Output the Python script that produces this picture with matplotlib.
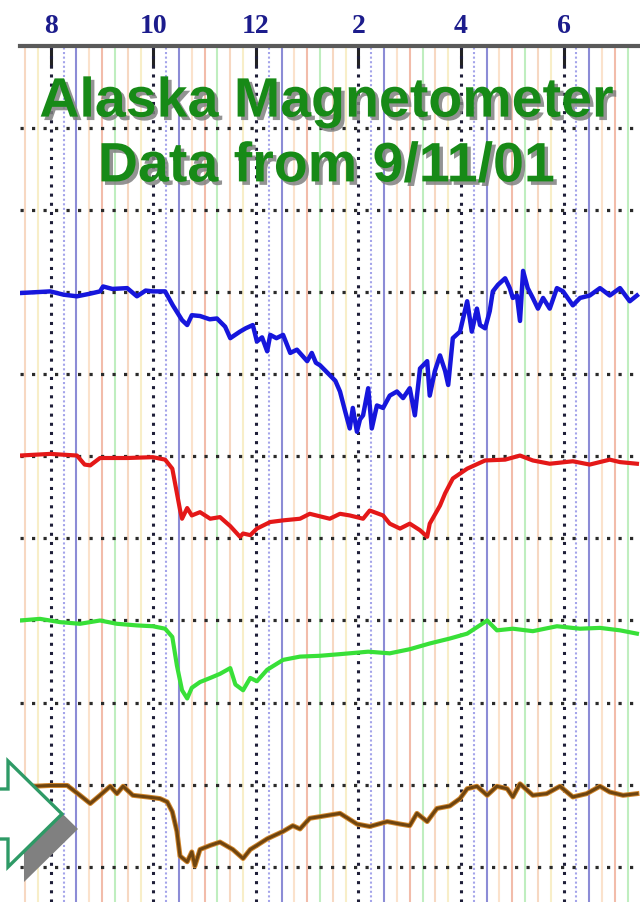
import numpy as np
import matplotlib
matplotlib.use("Agg")
import matplotlib.pyplot as plt
import matplotlib.patheffects as pe
from matplotlib.patches import Polygon
from matplotlib.transforms import Affine2D

# ---------------- data (time in hours, offset in grid divisions, downward) ----------------
tick_hours = [8, 10, 12, 14, 16, 18]
tick_labels = ["8", "10", "12", "2", "4", "6"]

blue_t = [7.40, 7.70, 7.99, 8.25, 8.51, 8.75, 8.96, 9.02, 9.20, 9.49, 9.68, 9.85, 9.99, 10.23, 10.38,
          10.56, 10.66, 10.75, 10.91, 11.10, 11.24, 11.40, 11.50, 11.69, 11.80, 11.94, 12.02, 12.12,
          12.22, 12.28, 12.40, 12.53, 12.67, 12.80, 13.00, 13.09, 13.17, 13.25, 13.44, 13.55, 13.64,
          13.74, 13.83, 13.89, 13.97, 14.03, 14.09, 14.19, 14.26, 14.36, 14.48, 14.61, 14.75, 14.87,
          15.00, 15.10, 15.20, 15.34, 15.39, 15.49, 15.59, 15.69, 15.75, 15.84, 15.98, 16.12, 16.21,
          16.31, 16.37, 16.47, 16.56, 16.62, 16.72, 16.86, 16.95, 17.01, 17.09, 17.15, 17.21, 17.30,
          17.40, 17.50, 17.60, 17.73, 17.87, 17.99, 18.18, 18.32, 18.51, 18.71, 18.90, 19.10, 19.29,
          19.43]
blue_v = [3.01, 3.00, 2.99, 3.03, 3.05, 3.02, 2.99, 2.93, 2.96, 2.95, 3.05, 2.98, 2.99, 2.99, 3.16,
          3.34, 3.40, 3.28, 3.29, 3.33, 3.32, 3.42, 3.56, 3.48, 3.44, 3.40, 3.60, 3.55,
          3.72, 3.52, 3.56, 3.52, 3.74, 3.70, 3.84, 3.74, 3.86, 3.89, 4.01, 4.08, 4.21,
          4.45, 4.66, 4.41, 4.70, 4.55, 4.50, 4.17, 4.66, 4.38, 4.41, 4.26, 4.21, 4.29,
          4.17, 4.50, 3.93, 3.84, 4.26, 3.96, 3.77, 3.96, 4.13, 3.56, 3.48, 3.11, 3.48,
          3.20, 3.40, 3.44, 3.23, 2.99, 2.91, 2.83, 2.95, 3.07, 3.04, 3.35, 2.74, 2.95,
          3.07, 3.20, 3.07, 3.20, 2.95, 2.99, 3.16, 3.07, 3.04, 2.95, 3.04, 2.95, 3.11,
          3.04]

red_t = [7.40, 7.99, 8.51, 8.66, 8.77, 8.96, 9.49, 9.99, 10.23, 10.37, 10.46, 10.52, 10.56,
         10.66, 10.75, 10.91, 11.11, 11.30, 11.50, 11.69, 11.75, 11.89, 12.02, 12.28, 12.53,
         12.86, 13.05, 13.44, 13.64, 13.83, 14.09, 14.22, 14.48, 14.61, 14.81, 15.00, 15.20,
         15.34, 15.39, 15.59, 15.69, 15.84, 16.12, 16.47, 16.86, 17.15, 17.40, 17.73, 18.18,
         18.51, 18.90, 19.10, 19.43]
red_v = [4.99, 4.97, 4.99, 5.10, 5.11, 5.02, 5.02, 5.01, 5.04, 5.15, 5.45, 5.65, 5.76,
         5.63, 5.72, 5.68, 5.76, 5.74, 5.85, 5.98, 5.94, 5.96, 5.88, 5.80, 5.78,
         5.76, 5.70, 5.76, 5.70, 5.72, 5.76, 5.66, 5.72, 5.82, 5.88, 5.82, 5.90,
         5.98, 5.82, 5.60, 5.45, 5.27, 5.15, 5.05, 5.04, 4.99, 5.05, 5.09, 5.06,
         5.10, 5.04, 5.07, 5.09]

green_t = [7.40, 7.79, 8.18, 8.57, 8.96, 9.29, 9.68, 9.99, 10.23, 10.37, 10.46, 10.56, 10.66,
           10.75, 10.91, 11.11, 11.30, 11.50, 11.60, 11.75, 11.89, 12.02, 12.22, 12.53, 12.86,
           13.25, 13.64, 14.19, 14.61, 15.00, 15.39, 15.78, 16.12, 16.51, 16.70, 17.01, 17.40,
           17.87, 18.32, 18.71, 19.10, 19.43]
green_v = [7.00, 6.98, 7.02, 7.04, 7.00, 7.04, 7.06, 7.07, 7.10, 7.20, 7.55, 7.85, 7.95,
           7.82, 7.75, 7.70, 7.65, 7.58, 7.78, 7.85, 7.70, 7.74, 7.60, 7.48, 7.44,
           7.43, 7.41, 7.38, 7.40, 7.35, 7.28, 7.22, 7.16, 7.00, 7.12, 7.10, 7.13,
           7.07, 7.10, 7.09, 7.12, 7.16]

brown_t = [7.40, 7.66, 7.99, 8.32, 8.57, 8.77, 8.96, 9.16, 9.29, 9.41, 9.60, 9.88, 10.13,
           10.27, 10.37, 10.46, 10.52, 10.66, 10.75, 10.81, 10.91, 11.11, 11.30, 11.55, 11.75,
           11.89, 12.02, 12.22, 12.53, 12.72, 12.86, 13.05, 13.25, 13.64, 13.97, 14.22, 14.56,
           14.81, 15.00, 15.14, 15.34, 15.53, 15.78, 15.98, 16.12, 16.31, 16.51, 16.70, 16.90,
           17.01, 17.15, 17.40, 17.67, 17.93, 18.18, 18.45, 18.71, 18.90, 19.16, 19.43]
brown_v = [9.02, 9.02, 9.01, 9.01, 9.13, 9.23, 9.13, 9.02, 9.11, 9.02, 9.13, 9.15, 9.17,
           9.21, 9.33, 9.57, 9.87, 9.94, 9.82, 9.99, 9.79, 9.74, 9.70, 9.79, 9.90,
           9.79, 9.74, 9.66, 9.57, 9.50, 9.54, 9.41, 9.39, 9.35, 9.48, 9.51, 9.45,
           9.48, 9.50, 9.35, 9.45, 9.29, 9.26, 9.17, 9.05, 9.02, 9.13, 9.02, 9.05,
           9.15, 8.99, 9.13, 9.11, 9.02, 9.15, 9.11, 9.02, 9.09, 9.13, 9.11]

title_text = "Alaska Magnetometer\nData from 9/11/01"

# ---------------- figure ----------------
W, H = 640, 903
fig = plt.figure(figsize=(W / 100, H / 100), dpi=100)
fig.patch.set_facecolor("white")
ax = fig.add_axes([20 / W, 0, 1 - 20 / W, 1 - 47 / H])
ax.set_xlim(7.40, 19.49)
ax.set_ylim(10.43, 0)

# faint 15-minute lines, colour pattern repeating every two hours
slot_colors = [None, "#a4a4ea", "#8c8cd6", "#fbe2cc", "#f2bcaa", "#bfeebf", "#f7d8c2", "#f8eec8"]
for q in np.arange(7.5, 19.5, 0.25):
    k = int(round((q % 2) / 0.25)) % 8
    if k == 0:
        continue
    ls = (0, (1, 1.2)) if k == 1 else "-"
    ax.axvline(q, color=slot_colors[k], lw=1.5, ls=ls, zorder=1)

# even-hour dotted black lines
for h in tick_hours:
    ax.axvline(h, color="#1e1e38", lw=2.2, ls=(0, (1, 2.0)), zorder=2)

# horizontal dotted grid lines
for g in range(1, 11):
    ax.axhline(g, color="#2a2a2a", lw=2.3, ls=(0, (1, 2.6)), zorder=2)

# traces
ax.plot(blue_t, blue_v, color="#1616dc", lw=3.2, zorder=4, solid_joinstyle="round")
ax.plot(red_t, red_v, color="#e41818", lw=3.0, zorder=4, solid_joinstyle="round")
ax.plot(green_t, green_v, color="#38e038", lw=3.0, zorder=4, solid_joinstyle="round")
ax.plot(brown_t, brown_v, color="#d2862a", lw=3.6, zorder=4, solid_joinstyle="round")
ax.plot(brown_t, brown_v, color="#6e4410", lw=2.2, zorder=5, solid_joinstyle="round")

# axes decoration
for s in ["left", "right", "bottom"]:
    ax.spines[s].set_visible(False)
ax.spines["top"].set_color("#5a5a5a")
ax.spines["top"].set_linewidth(3)
ax.set_yticks([])
ax.xaxis.tick_top()
ax.set_xticks(tick_hours)
ax.set_xticklabels(tick_labels, fontfamily="Liberation Serif", fontweight="bold",
                   fontsize=20, color="#1c1c8c")
ax.tick_params(axis="x", direction="in", length=16, width=2.2, color="#222222", pad=6)

# title with drop shadow
fig.text(326 / W, 1 - 136 / H, title_text, ha="center", va="center",
         fontsize=40, fontweight="bold", family="Liberation Sans", color="#178a17",
         linespacing=1.32,
         path_effects=[pe.withSimplePatchShadow(offset=(2.5, -2.5), shadow_rgbFace="#808080", alpha=0.85)])

# decorative arrow at the left (pixel coordinates of the figure)
px = Affine2D().scale(1 / W, -1 / H).translate(0, 1) + fig.transFigure
arrow = [(-6, 790), (8, 790), (8, 762), (62, 815), (8, 868), (8, 840), (-6, 840)]
shadow = [(x + 16, y + 15) for x, y in arrow]
fig.patches.append(Polygon(shadow, closed=True, transform=px, facecolor="#808080",
                           edgecolor="none", zorder=6))
fig.patches.append(Polygon(arrow, closed=True, transform=px, facecolor="white",
                           edgecolor="#2e9a66", lw=2.4, zorder=7))

fig.savefig("out.png", dpi=100)
